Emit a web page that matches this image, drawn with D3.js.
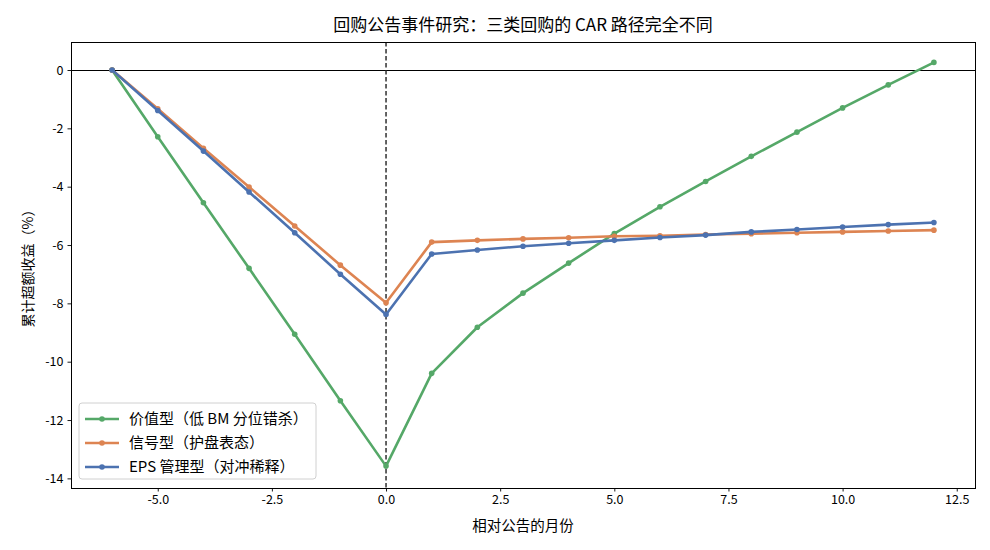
<!DOCTYPE html>
<html>
<head>
<meta charset="utf-8">
<script src="https://cdn.jsdelivr.net/npm/d3@7/dist/d3.min.js"></script>
<style>
  html, body { margin: 0; padding: 0; background: #fff; }
  svg { display: block; }
  text { font-family: "Noto Sans CJK SC", "Noto Sans", sans-serif; fill: #000; }
</style>
</head>
<body>
<svg id="chart" width="990" height="550"></svg>
<script>
const months = [-6, -5, -4, -3, -2, -1, 0, 1, 2, 3, 4, 5, 6, 7, 8, 9, 10, 11, 12];
const valueType = [0, -2.29, -4.55, -6.80, -9.06, -11.34, -13.58, -10.40, -8.82, -7.65, -6.62, -5.61, -4.69, -3.82, -2.96, -2.13, -1.30, -0.51, 0.26];
const signalType = [0, -1.33, -2.68, -4.01, -5.35, -6.69, -7.98, -5.90, -5.84, -5.79, -5.75, -5.70, -5.68, -5.64, -5.61, -5.58, -5.55, -5.52, -5.49];
const epsType = [0, -1.39, -2.78, -4.18, -5.58, -7.00, -8.38, -6.31, -6.17, -6.04, -5.94, -5.84, -5.74, -5.66, -5.55, -5.47, -5.38, -5.30, -5.23];
const seriesNames = ["价值型（低 BM 分位错杀）", "信号型（护盘表态）", "EPS 管理型（对冲稀释）"];
const seriesColors = ["#55a868", "#dd8452", "#4c72b0"];
const xTicks = [-5, -2.5, 0, 2.5, 5, 7.5, 10, 12.5];
const yTicks = [0, -2, -4, -6, -8, -10, -12, -14];
const titleText = "回购公告事件研究：三类回购的 CAR 路径完全不同";
const xLabel = "相对公告的月份";
const yLabel = "累计超额收益（%）";

const series = [valueType, signalType, epsType].map((vals, i) => ({
  name: seriesNames[i], color: seriesColors[i],
  points: months.map((m, j) => ({ x: m, y: vals[j] }))
}));

const svg = d3.select("#chart");
const M = { left: 71, right: 975, top: 42, bottom: 488 };

const x = d3.scaleLinear().domain([-6.9, 12.9]).range([M.left, M.right]);
const y = d3.scaleLinear().domain([-14.33, 0.96]).range([M.bottom, M.top]);

// zero line
const y0 = Math.round(y(0)) + 0.5;
svg.append("line")
  .attr("x1", M.left).attr("x2", M.right)
  .attr("y1", y0).attr("y2", y0)
  .attr("stroke", "#000").attr("stroke-width", 1)
  .attr("shape-rendering", "crispEdges");

// vertical dashed line at 0
svg.append("line")
  .attr("x1", x(0)).attr("x2", x(0))
  .attr("y1", M.top).attr("y2", M.bottom)
  .attr("stroke", "#222").attr("stroke-width", 1.4)
  .attr("stroke-dasharray", "4.5,2.5");

const line = d3.line().x(d => x(d.x)).y(d => y(d.y));

series.forEach(s => {
  const g = svg.append("g");
  g.append("path").datum(s.points)
    .attr("d", line).attr("fill", "none")
    .attr("stroke", s.color).attr("stroke-width", 2.6)
    .attr("stroke-linejoin", "round").attr("stroke-linecap", "square");
  g.selectAll("circle").data(s.points).enter().append("circle")
    .attr("cx", d => x(d.x)).attr("cy", d => y(d.y)).attr("r", 2.8)
    .attr("fill", s.color);
});

// axes
const xAxis = d3.axisBottom(x).tickValues(xTicks).tickSize(3.5).tickPadding(4);
const yAxis = d3.axisLeft(y).tickValues(yTicks).tickSize(3.5).tickPadding(4);

const gx = svg.append("g").attr("transform", `translate(0,${M.bottom})`).call(xAxis);
const gy = svg.append("g").attr("transform", `translate(${M.left},0)`).call(yAxis);
[gx, gy].forEach(g => {
  g.select(".domain").remove();
  g.selectAll(".tick line").attr("stroke", "#000").attr("stroke-width", 0.9);
  g.selectAll(".tick text").attr("font-size", 12.5).style("fill", "#000")
    .style("font-family", '"Noto Sans CJK SC", sans-serif');
});
gx.selectAll(".tick text").text(d => d3.format(".1f")(d).replace("−", "-"));
gy.selectAll(".tick text").text(d => d3.format("d")(d).replace("−", "-"));

// frame
svg.append("rect")
  .attr("x", M.left + 0.5).attr("y", M.top + 0.5)
  .attr("width", M.right - M.left).attr("height", M.bottom - M.top)
  .attr("fill", "none").attr("stroke", "#000").attr("stroke-width", 1)
  .attr("shape-rendering", "crispEdges");

// title and labels
svg.append("text").attr("x", (M.left + M.right) / 2).attr("y", 31)
  .attr("text-anchor", "middle").attr("font-size", 17).text(titleText);
svg.append("text").attr("x", (M.left + M.right) / 2).attr("y", 531)
  .attr("text-anchor", "middle").attr("font-size", 14.5).text(xLabel);
svg.append("text")
  .attr("transform", `translate(33,${(M.top + M.bottom) / 2}) rotate(-90)`)
  .attr("text-anchor", "middle").attr("font-size", 14).text(yLabel);

// legend
const lg = svg.append("g").attr("transform", "translate(79,403)");
lg.append("rect").attr("width", 237).attr("height", 76).attr("rx", 3)
  .attr("fill", "#fff").attr("fill-opacity", 0.8)
  .attr("stroke", "#d0d0d0").attr("stroke-width", 1);
series.forEach((s, i) => {
  const ry = 16 + i * 24;
  lg.append("line").attr("x1", 6).attr("x2", 40).attr("y1", ry).attr("y2", ry)
    .attr("stroke", s.color).attr("stroke-width", 2.6);
  lg.append("circle").attr("cx", 23).attr("cy", ry).attr("r", 2.8).attr("fill", s.color);
  lg.append("text").attr("x", 50).attr("y", ry).attr("dy", "0.36em")
    .attr("font-size", 15).text(s.name);
});
</script>
</body>
</html>
